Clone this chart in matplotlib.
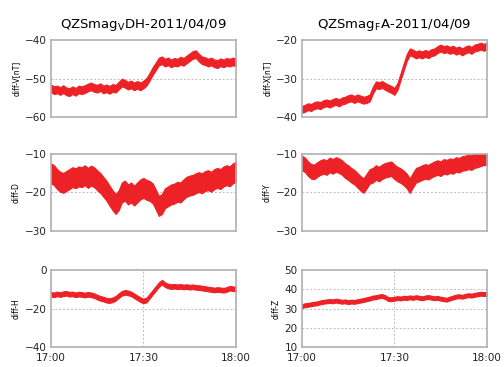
import numpy as np
import matplotlib.pyplot as plt

# minutes after 17:00, one value per minute
minutes = np.arange(0, 61)

diff_v = [-52.5, -53.0, -52.8, -53.2, -52.7, -53.3, -53.5, -53.0, -53.4, -52.8,
          -53.0, -52.7, -52.3, -52.0, -52.4, -52.6, -52.2, -52.8, -52.5, -52.9,
          -52.4, -52.6, -51.8, -51.0, -51.3, -51.8, -51.5, -52.0, -51.6, -52.0,
          -51.5, -50.8, -49.5, -48.0, -46.8, -45.5, -45.2, -45.8, -45.5, -46.0,
          -45.6, -45.8, -45.3, -45.6, -45.0, -44.4, -43.8, -43.6, -44.5, -45.2,
          -45.4, -45.8, -45.5, -46.0, -46.2, -45.7, -46.0, -45.6, -45.8, -45.5,
          -45.7]
diff_x = [-38.0, -37.7, -37.3, -37.5, -37.0, -36.8, -37.0, -36.5, -36.3, -36.6,
          -36.2, -35.9, -36.3, -35.8, -35.6, -35.2, -35.0, -35.4, -35.0, -35.3,
          -35.6, -35.4, -35.0, -33.0, -31.6, -31.8, -31.5, -32.0, -32.4, -32.8,
          -33.3, -32.0, -29.5, -27.0, -24.5, -23.0, -23.3, -23.8, -23.5, -23.8,
          -23.4, -23.7, -23.2, -23.0, -22.4, -22.0, -22.4, -22.2, -22.6, -22.3,
          -22.8, -22.5, -23.0, -22.5, -22.2, -22.6, -22.0, -21.8, -21.5, -21.8,
          -21.5]
diff_d = [-15.0, -15.5, -16.5, -17.2, -17.5, -17.0, -16.5, -16.0, -16.3, -15.8,
          -16.0, -15.5, -16.2, -15.6, -16.0, -16.8, -17.5, -18.5, -19.5, -20.8,
          -22.0, -23.0, -22.0, -20.0, -19.5, -20.5, -20.0, -20.8, -20.0, -19.2,
          -18.8, -19.3, -19.6, -20.2, -21.8, -23.5, -23.0, -21.5, -21.0, -20.5,
          -20.3, -19.8, -20.0, -19.2, -18.5, -18.2, -18.0, -17.6, -17.3, -17.6,
          -17.0, -16.8, -17.2, -16.5, -16.2, -16.5, -15.8, -15.5, -15.8, -15.0,
          -14.6]
diff_y = [-12.3, -12.8, -13.8, -14.5, -14.6, -14.0, -13.5, -13.2, -13.5, -12.8,
          -13.2, -12.7, -13.0, -13.5, -14.3, -14.8, -15.5, -16.0, -16.8, -17.6,
          -18.2, -17.0, -15.8, -15.5, -14.8, -15.2, -14.6, -14.2, -14.0, -13.8,
          -14.6, -15.2, -15.6, -16.2, -17.0, -18.2, -16.8, -15.5, -15.2, -14.8,
          -14.5, -14.7, -14.2, -13.8, -13.5, -13.8, -13.2, -13.4, -13.0, -13.2,
          -12.7, -12.9, -12.4, -12.3, -12.0, -12.2, -11.7, -11.5, -11.2, -10.9,
          -11.0]
diff_h = [-12.5, -12.8, -12.3, -12.7, -12.2, -12.0, -12.5, -12.3, -12.8, -12.4,
          -12.6, -12.9, -12.5, -12.8, -13.2, -14.0, -14.6, -15.0, -15.6, -15.8,
          -15.4, -14.6, -13.2, -12.0, -11.5, -11.8, -12.3, -13.3, -14.3, -15.3,
          -16.0, -15.5, -13.5, -11.5, -9.5, -7.5, -6.2, -7.5, -8.2, -8.5,
          -8.3, -8.6, -8.4, -8.7, -8.5, -8.8, -8.6, -8.9, -9.0, -9.3,
          -9.5, -9.8, -10.0, -10.3, -10.0, -10.2, -10.4, -10.0, -9.3, -9.6,
          -9.8]
diff_z = [31.3, 31.8, 32.0, 32.3, 32.6, 32.8, 33.3, 33.6, 33.8, 34.0,
          33.8, 34.2, 33.9, 33.6, 33.8, 33.4, 33.7, 33.5, 33.9, 34.2,
          34.5, 34.9, 35.3, 35.8, 36.0, 36.4, 36.6, 36.0, 35.0, 34.9,
          35.2, 35.5, 35.3, 35.7, 35.5, 35.9, 35.6, 36.0, 35.7, 35.4,
          35.8, 36.1, 35.7, 35.4, 35.6, 35.2, 34.9, 34.7, 35.3, 35.8,
          36.3, 36.5, 36.2, 36.7, 37.0, 36.8, 37.2, 37.5, 37.8, 37.6,
          37.7]

# half spread of the noisy trace in each panel (nT)
spread = {'V': 1.0, 'X': 0.9, 'D': 2.6, 'Y': 1.9, 'H': 1.2, 'Z': 1.0}

panels = [
    (diff_v, 'V', 'diff-V[nT]', (-60, -40), [-60, -50, -40]),
    (diff_x, 'X', 'diff-X[nT]', (-40, -20), [-40, -30, -20]),
    (diff_d, 'D', 'diff-D', (-30, -10), [-30, -20, -10]),
    (diff_y, 'Y', 'diff-Y', (-30, -10), [-30, -20, -10]),
    (diff_h, 'H', 'diff-H', (-40, 0), [-40, -20, 0]),
    (diff_z, 'Z', 'diff-Z', (10, 50), [10, 20, 30, 40, 50]),
]
titles = ['QZSmag$_\\mathregular{V}$DH-2011/04/09',
          'QZSmag$_\\mathregular{F}$A-2011/04/09']
xlabels = ['17:00', '17:30', '18:00']

red = '#ec2227'
fig = plt.figure(figsize=(5.04, 3.67), dpi=100)
lefts = [0.101, 0.599]
bottoms = [0.681, 0.371, 0.0545]

for i, (vals, key, ylab, ylim, yt) in enumerate(panels):
    row, col = i // 2, i % 2
    ax = fig.add_axes([lefts[col], bottoms[row], 0.367, 0.209])
    v = np.array(vals)
    w = spread[key]
    ax.fill_between(minutes, v - w, v + w, color=red, lw=0.8, ec=red)
    ax.set_xlim(0, 60)
    ax.set_ylim(*ylim)
    ax.set_yticks(yt)
    ax.set_xticks([0, 30, 60])
    for y in yt[1:-1]:
        ax.axhline(y, color='#bbbbbb', lw=0.7, ls=(0, (2, 2)), zorder=0)
    if row == 2:
        ax.axvline(30, color='#bbbbbb', lw=0.7, ls=(0, (2, 2)), zorder=0)
        ax.set_xticklabels(xlabels)
    else:
        ax.set_xticklabels([])
    ax.tick_params(length=0, labelsize=7.5, colors='#222222')
    ax.tick_params(axis='x', pad=4)
    ax.tick_params(axis='y', pad=3)
    ax.set_ylabel(ylab, fontsize=5.5, labelpad=3)
    for s in ax.spines.values():
        s.set_color('#b0b0b0')
        s.set_linewidth(1.2)
    if row == 0:
        ax.set_title(titles[col], fontsize=9.5, pad=9)

fig.savefig('out.png', dpi=100)
